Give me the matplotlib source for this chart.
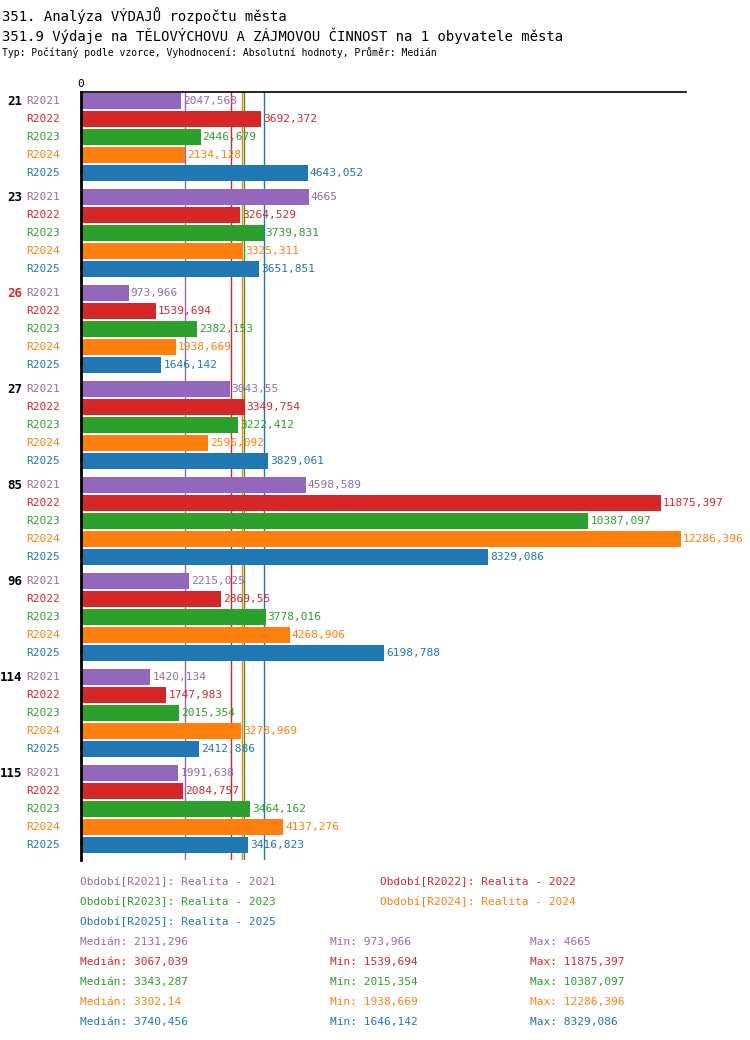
import numpy as np
import matplotlib.pyplot as plt

plt.rcParams['font.family'] = ['DejaVu Sans Mono']

## Data
groups = ['21', '23', '26', '27', '85', '96', '114', '115']
series = ['R2021', 'R2022', 'R2023', 'R2024', 'R2025']
colors = ['#9467bd', '#d62728', '#2ca02c', '#ff7f0e', '#1f77b4']
values = [
    [2047.568, 3692.372, 2446.679, 2134.128, 4643.052],
    [4665, 3264.529, 3739.831, 3325.311, 3651.851],
    [973.966, 1539.694, 2382.153, 1938.669, 1646.142],
    [3043.55, 3349.754, 3222.412, 2596.092, 3829.061],
    [4598.589, 11875.397, 10387.097, 12286.396, 8329.086],
    [2215.025, 2869.55, 3778.016, 4268.906, 6198.788],
    [1420.134, 1747.983, 2015.354, 3278.969, 2412.886],
    [1991.638, 2084.757, 3464.162, 4137.276, 3416.823],
]
medians = [2131.296, 3067.039, 3343.287, 3302.14, 3740.456]
mins = [973.966, 1539.694, 2015.354, 1938.669, 1646.142]
maxs = [4665, 11875.397, 10387.097, 12286.396, 8329.086]
periods = ['Realita - 2021', 'Realita - 2022', 'Realita - 2023', 'Realita - 2024', 'Realita - 2025']

def fmt(v):
    s = ('%.3f' % v).rstrip('0').rstrip('.')
    return s.replace('.', ',')

fig = plt.figure(figsize=(7.5, 10.4), dpi=100)
ax = fig.add_axes([0.108, 0.173, 0.807, 0.7385])

gstep = 96 / 18
for i, g in enumerate(groups):
    for j, s in enumerate(series):
        y = i * gstep + j + 0.5
        v = values[i][j]
        ax.barh(y, v, height=0.85, color=colors[j])
        ax.text(v + 40, y, fmt(v), color=colors[j], fontsize=8, va='center', ha='left')
        ax.text(-420, y, s, color=colors[j], fontsize=8, va='center', ha='right')
    ax.text(-1200, i * gstep + 0.5, g, fontsize=9, fontweight='bold', va='center',
            ha='right', color='#d62728' if g == '26' else 'black')

for m, c in zip(medians, colors):
    ax.axvline(m, color=c, lw=1, zorder=0)

ax.set_xlim(0, 12390)
ax.set_ylim(42.67, 0)
for sp in ['right', 'bottom']:
    ax.spines[sp].set_visible(False)
ax.spines['left'].set_linewidth(2)
ax.spines['top'].set_linewidth(1.2)
ax.set_yticks([])
ax.set_xticks([0])
ax.xaxis.tick_top()
ax.tick_params(axis='x', length=0, labelsize=8, pad=2)

fig.text(0.003, 0.993, '351. Analýza VÝDAJŮ rozpočtu města', fontsize=10, va='top')
fig.text(0.003, 0.974, '351.9 Výdaje na TĚLOVÝCHOVU A ZÁJMOVOU ČINNOST na 1 obyvatele města',
         fontsize=10, va='top')
fig.text(0.003, 0.955, 'Typ: Počítaný podle vzorce, Vyhodnocení: Absolutní hodnoty, Průměr: Medián',
         fontsize=7, va='top')

# legenda
for j, s in enumerate(series):
    x = 80 if j % 2 == 0 else 380
    y = 882 + (j // 2) * 20
    fig.text(x / 750, 1 - y / 1040, 'Období[%s]: %s' % (s, periods[j]), color=colors[j],
             fontsize=8, va='center')
for j in range(5):
    y = 942 + j * 20
    fig.text(80 / 750, 1 - y / 1040, 'Medián: ' + fmt(medians[j]), color=colors[j], fontsize=8, va='center')
    fig.text(330 / 750, 1 - y / 1040, 'Min: ' + fmt(mins[j]), color=colors[j], fontsize=8, va='center')
    fig.text(530 / 750, 1 - y / 1040, 'Max: ' + fmt(maxs[j]), color=colors[j], fontsize=8, va='center')

fig.savefig('out.png', dpi=100)
